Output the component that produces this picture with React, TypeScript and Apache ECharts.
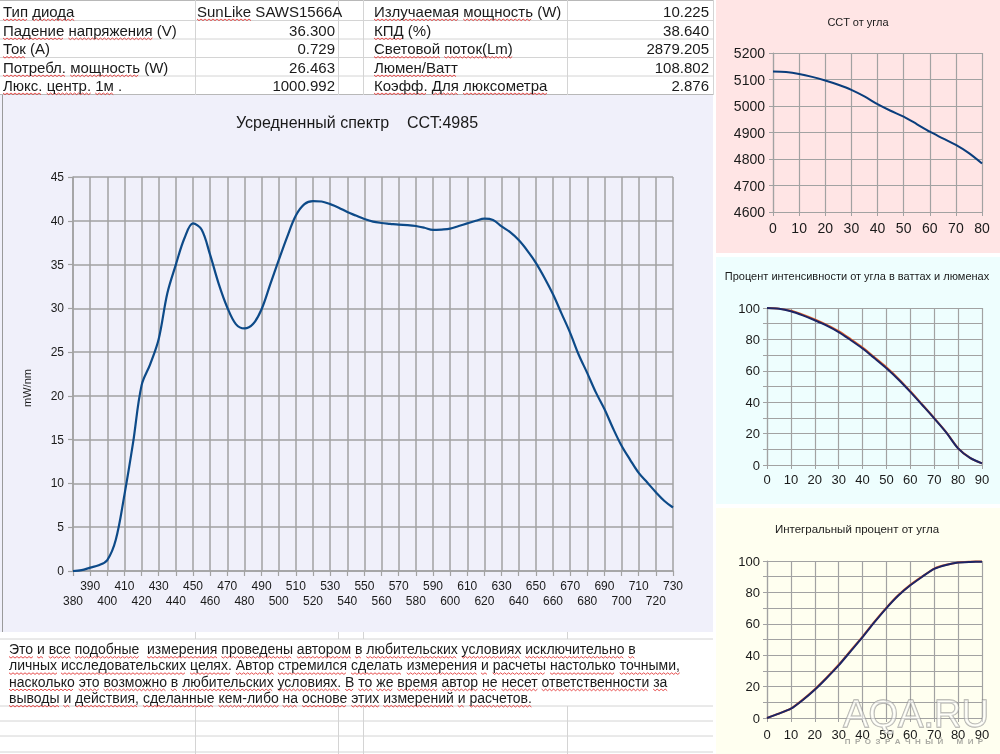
import React, { useEffect, useRef } from 'react';
import * as echarts from 'echarts';

const FONT = '"Liberation Sans", Arial, Helvetica, sans-serif';

// ---- Main spectrum ----
const wavelengths = [
  380, 385, 390, 395, 400, 405, 410, 415, 420, 425, 430, 435, 440, 445, 450, 455, 460, 465, 470, 475,
  480, 485, 490, 495, 500, 505, 510, 515, 520, 525, 530, 535, 540, 545, 550, 555, 560, 565, 570, 575,
  580, 585, 590, 595, 600, 605, 610, 615, 620, 625, 630, 635, 640, 645, 650, 655, 660, 665, 670, 675,
  680, 685, 690, 695, 700, 705, 710, 715, 720, 725, 730,
];
const spectrum = [
  0, 0.1, 0.38, 0.65, 1.25, 3.6, 8.7, 14.6, 21.2, 23.6, 26.5, 31.7, 35.0, 38.0, 39.7, 39.0, 36.1, 32.8, 30.1, 28.2,
  27.7, 28.2, 29.9, 32.7, 35.5, 38.2, 40.6, 41.9, 42.25, 42.2, 41.9, 41.5, 41.0, 40.6, 40.2, 39.9, 39.75, 39.65, 39.55, 39.5,
  39.4, 39.2, 38.95, 39.0, 39.1, 39.4, 39.7, 40.0, 40.25, 40.1, 39.35, 38.7, 37.8, 36.6, 35.2, 33.5, 31.6, 29.4, 27.2, 24.7,
  22.6, 20.4, 18.5, 16.3, 14.3, 12.7, 11.2, 10.1, 9.0, 8.0, 7.25,
];

// ---- CCT vs angle ----
const cctAngles = [0, 5, 10, 15, 20, 25, 30, 35, 40, 45, 50, 55, 60, 65, 70, 75, 80];
const cctValues = [5130, 5128, 5121, 5110, 5096, 5080, 5061, 5036, 5007, 4982, 4960, 4932, 4903, 4878, 4853, 4822, 4783];

// ---- Intensity % vs angle ----
const angles90 = [0, 5, 10, 15, 20, 25, 30, 35, 40, 45, 50, 55, 60, 65, 70, 75, 80, 85, 90];
const intensityWatts = [100, 99.5, 97.9, 95.3, 92.2, 88.8, 84.7, 79.6, 74.2, 68.0, 61.6, 54.5, 46.6, 38.2, 29.7, 20.8, 10.6, 4.5, 1.0];
const intensityLumens = [100, 99.6, 98.2, 95.7, 92.7, 89.3, 85.3, 80.2, 74.8, 68.6, 62.2, 55.0, 47.0, 38.5, 29.9, 21.0, 10.7, 4.5, 1.0];

// ---- Integral % vs angle ----
const integralWatts = [0, 2.8, 5.9, 11.5, 18.0, 25.5, 33.5, 42.5, 51.5, 61.0, 70.0, 78.0, 84.5, 90.0, 95.0, 97.5, 99.0, 99.4, 99.6];
const integralLumens = [0, 2.9, 6.0, 11.7, 18.3, 25.8, 33.9, 42.9, 51.9, 61.4, 70.3, 78.3, 84.8, 90.2, 95.2, 97.6, 99.1, 99.5, 99.7];

// ---- Table ----
const leftLabels = ['Тип диода', 'Падение напряжения (V)', 'Ток (A)', 'Потребл. мощность (W)', 'Люкс. центр. 1м .'];
const leftValues = ['SunLike SAWS1566A', '36.300', '0.729', '26.463', '1000.992'];
const rightLabels = ['Излучаемая мощность (W)', 'КПД (%)', 'Световой поток(Lm)', 'Люмен/Ватт', 'Коэфф. Для люксометра'];
const rightValues = ['10.225', '38.640', '2879.205', '108.802', '2.876'];

const noteLines = [
  'Это и все подобные  измерения проведены автором в любительских условиях исключительно в',
  'личных исследовательских целях. Автор стремился сделать измерения и расчеты настолько точными,',
  'насколько это возможно в любительских условиях. В то же время автор не несет ответственности за',
  'выводы и действия, сделанные кем-либо на основе этих измерений и расчетов.',
];

const mainTitle = 'Усредненный спектр    CCT:4985';
const cctTitle = 'CCT от угла';
const intensityTitle = 'Процент интенсивности от угла в ваттах и люменах';
const integralTitle = 'Интегральный процент от угла';
const watermark = 'AQA.RU';
const watermarkSub = 'П  Р  О  З  Р  А  Ч  Н  Ы  Й      М  И  Р';

const GRID = '#a2a2a2';
const TXT = '#1a1a1a';

let measureCtx: CanvasRenderingContext2D | null = null;
function textWidth(s: string, size: number) {
  if (!measureCtx) measureCtx = document.createElement('canvas').getContext('2d');
  measureCtx!.font = `${size}px "Liberation Sans", Arial, sans-serif`;
  return measureCtx!.measureText(s).width;
}

function wavyUnderlines(text: string, x: number, yLine: number, size: number, scaleX = 1) {
  const out: any[] = [];
  let pos = 0;
  const parts = text.split(' ');
  parts.forEach((w, i) => {
    const before = text.slice(0, pos);
    const start = x + textWidth(before, size) * scaleX;
    const width = textWidth(w, size) * scaleX;
    const underline = w.length > 0 && (/[А-Яа-яЁё]/.test(w) || w === 'SunLike');
    if (underline && width > 2) {
      const pts: number[][] = [];
      let k = 0;
      for (let px = start; px <= start + width; px += 2) {
        pts.push([px, yLine + (k % 2 === 0 ? 0 : 1.6)]);
        k++;
      }
      out.push({ type: 'polyline', z: 20, shape: { points: pts }, style: { stroke: '#e02020', lineWidth: 0.8, fill: null } });
    }
    pos += w.length + (i < parts.length - 1 ? 1 : 0);
  });
  return out;
}

function txt(text: string, x: number, y: number, size: number, align = 'left', extra: any = {}) {
  const { style, ...rest } = extra;
  return {
    type: 'text',
    x,
    y,
    z: 30,
    ...rest,
    style: {
      text,
      fill: TXT,
      fontSize: size,
      fontFamily: FONT,
      align,
      textAlign: align,
      verticalAlign: 'middle',
      textVerticalAlign: 'middle',
      ...(style || {}),
    },
  };
}

function rect(x: number, y: number, w: number, h: number, fill: string, z = -10) {
  return { type: 'rect', z, shape: { x, y, width: w, height: h }, style: { fill } };
}
function hline(x1: number, x2: number, y: number, color = '#d4d4d4', w = 1, z = -5) {
  return { type: 'line', z, shape: { x1, y1: y, x2, y2: y }, style: { stroke: color, lineWidth: w } };
}
function vline(x: number, y1: number, y2: number, color = '#d4d4d4', w = 1, z = -5) {
  return { type: 'line', z, shape: { x1: x, y1, x2: x, y2 }, style: { stroke: color, lineWidth: w } };
}

function panelX(gridIndex: number, max: number, fontSize: number, margin: number) {
  return {
    gridIndex,
    type: 'value',
    min: 0,
    max,
    interval: 10,
    axisLine: { show: true, lineStyle: { color: GRID, width: 1.2 } },
    axisTick: { show: true, length: 4, lineStyle: { color: GRID } },
    axisLabel: { fontSize, color: TXT, margin, fontFamily: FONT, showMinLabel: true, showMaxLabel: true },
    splitLine: { show: true, lineStyle: { color: GRID, width: 1.2 } },
  };
}
function panelY(gridIndex: number, min: number, max: number, interval: number, fontSize: number, margin: number, every: number) {
  return {
    gridIndex,
    type: 'value',
    min,
    max,
    interval,
    axisLine: { show: true, lineStyle: { color: GRID, width: 1.2 } },
    axisTick: { show: true, length: 4, lineStyle: { color: GRID } },
    axisLabel: {
      fontSize,
      color: TXT,
      margin,
      fontFamily: FONT,
      showMinLabel: true,
      showMaxLabel: true,
      formatter: (v: number) => ((v - min) % every === 0 ? String(v) : ''),
    },
    splitLine: { show: true, lineStyle: { color: GRID, width: 1.2 } },
  };
}

function buildOption() {
  const g: any[] = [];
  // backgrounds
  g.push(rect(0, 0, 1000, 754, '#ffffff', -20));
  g.push(rect(0, 95, 713, 537, '#f0f0fa'));
  g.push(rect(716, 0, 284, 253, '#ffe5e5'));
  g.push(rect(716, 257, 284, 247, '#eefefe'));
  g.push(rect(716, 508, 284, 246, '#fffff0'));
  g.push(vline(2.5, 95, 632, '#9a9a9a', 1));

  // top table grid
  g.push(hline(0, 713, 0.5, '#b8b8b8'));
  [20.5, 39, 57.5, 76].forEach((y) => g.push(hline(0, 713, y)));
  g.push(hline(0, 713, 94.5, '#b8b8b8'));
  [195, 338, 363, 567, 713].forEach((x) => g.push(vline(x + 0.5, 0, 95)));
  const rowY = [11, 30, 48.5, 67, 85];
  const TS = 15;
  rowY.forEach((y, i) => {
    g.push(txt(leftLabels[i], 3, y, TS, 'left'));
    g.push(...wavyUnderlines(leftLabels[i], 3, y + 8, TS));
    if (i === 0) {
      g.push(txt(leftValues[i], 197, y, TS, 'left'));
      g.push(...wavyUnderlines(leftValues[i], 197, y + 8, TS));
    } else {
      g.push(txt(leftValues[i], 335, y, TS, 'right'));
    }
    g.push(txt(rightLabels[i], 374, y, TS, 'left'));
    g.push(...wavyUnderlines(rightLabels[i], 374, y + 8, TS));
    g.push(txt(rightValues[i], 709, y, TS, 'right'));
  });

  // main chart titles
  g.push(txt(mainTitle, 357, 122, 16, 'center'));
  g.push(txt('mW/nm', 27, 388, 11, 'center', { rotation: Math.PI / 2 }));

  // panel titles
  g.push(txt(cctTitle, 858, 22, 11, 'center'));
  g.push(txt(intensityTitle, 857, 276, 11, 'center'));
  g.push(txt(integralTitle, 857, 529, 11.5, 'center'));

  // bottom spreadsheet area
  [639, 706, 721, 736, 752].forEach((y) => g.push(hline(0, 713, y)));
  [195, 338, 363, 567].forEach((x) => {
    g.push(vline(x + 0.5, 632, 639));
    g.push(vline(x + 0.5, 706, 754));
  });
  const NS = 14;
  noteLines.forEach((line, i) => {
    const y = 649 + i * 16.3;
    g.push(txt(line, 9, y, NS, 'left'));
    g.push(...wavyUnderlines(line, 9, y + 7.5, NS));
  });

  // watermark
  g.push({
    type: 'text',
    x: 916,
    y: 714,
    z: 40,
    style: {
      text: watermark,
      fill: 'rgba(255,255,255,0.5)',
      stroke: 'rgba(130,130,130,0.65)',
      lineWidth: 1.3,
      fontSize: 38,
      fontFamily: FONT,
      align: 'center',
      textAlign: 'center',
      verticalAlign: 'middle',
      textVerticalAlign: 'middle',
    },
  });
  g.push({
    type: 'text',
    x: 914,
    y: 741,
    z: 40,
    style: {
      text: watermarkSub,
      fill: 'rgba(100,100,100,0.55)',
      fontSize: 8,
      fontWeight: 'bold',
      fontFamily: FONT,
      align: 'center',
      textAlign: 'center',
      verticalAlign: 'middle',
      textVerticalAlign: 'middle',
    },
  });

  const mainXBase = {
    gridIndex: 0,
    type: 'value',
    min: 380,
    max: 730,
    interval: 10,
  };

  return {
    animation: false,
    backgroundColor: 'transparent',
    textStyle: { fontFamily: FONT },
    grid: [
      { left: 73, top: 177, width: 600, height: 394 },
      { left: 773, top: 53, width: 209, height: 159 },
      { left: 767, top: 308, width: 215, height: 157 },
      { left: 767, top: 561, width: 215, height: 157 },
    ],
    xAxis: [
      {
        ...mainXBase,
        axisLine: { show: true, lineStyle: { color: GRID, width: 1.5 } },
        axisTick: { show: true, length: 5, lineStyle: { color: GRID, width: 1.2 } },
        axisLabel: {
          fontSize: 12,
          color: TXT,
          margin: 9,
          fontFamily: FONT,
          showMinLabel: true,
          showMaxLabel: true,
          formatter: (v: number) => (((v - 380) / 10) % 2 === 1 ? String(v) : ''),
        },
        splitLine: { show: true, lineStyle: { color: GRID, width: 1.5 } },
      },
      panelX(1, 80, 14, 9),
      panelX(2, 90, 13, 8),
      panelX(3, 90, 13, 10),
      {
        ...mainXBase,
        position: 'bottom',
        offset: 0,
        axisLine: { show: false },
        axisTick: { show: false },
        splitLine: { show: false },
        axisLabel: {
          fontSize: 12,
          color: TXT,
          margin: 24,
          fontFamily: FONT,
          showMinLabel: true,
          showMaxLabel: true,
          formatter: (v: number) => (((v - 380) / 10) % 2 === 0 ? String(v) : ''),
        },
      },
    ],
    yAxis: [
      {
        gridIndex: 0,
        type: 'value',
        min: 0,
        max: 45,
        interval: 5,
        axisLine: { show: true, lineStyle: { color: GRID, width: 1.5 } },
        axisTick: { show: true, length: 5, lineStyle: { color: GRID, width: 1.2 } },
        axisLabel: { fontSize: 12, color: TXT, margin: 9, fontFamily: FONT, showMinLabel: true, showMaxLabel: true },
        splitLine: { show: true, lineStyle: { color: GRID, width: 1.5 } },
      },
      panelY(1, 4600, 5200, 100, 14, 8, 100),
      panelY(2, 0, 100, 10, 13, 7, 20),
      panelY(3, 0, 100, 10, 13, 7, 20),
    ],
    series: [
      {
        type: 'line',
        xAxisIndex: 0,
        yAxisIndex: 0,
        data: wavelengths.map((w, i) => [w, spectrum[i]]),
        smooth: 0.35,
        showSymbol: false,
        lineStyle: { color: '#0d4a88', width: 2.2 },
        z: 5,
      },
      {
        type: 'line',
        xAxisIndex: 1,
        yAxisIndex: 1,
        data: cctAngles.map((a, i) => [a, cctValues[i]]),
        smooth: 0.3,
        showSymbol: false,
        lineStyle: { color: '#0a3d7c', width: 2 },
        z: 5,
      },
      {
        type: 'line',
        xAxisIndex: 2,
        yAxisIndex: 2,
        data: angles90.map((a, i) => [a, intensityLumens[i]]),
        smooth: 0.3,
        showSymbol: false,
        lineStyle: { color: '#e2622a', width: 2 },
        z: 5,
      },
      {
        type: 'line',
        xAxisIndex: 2,
        yAxisIndex: 2,
        data: angles90.map((a, i) => [a, intensityWatts[i]]),
        smooth: 0.3,
        showSymbol: false,
        lineStyle: { color: '#1c2566', width: 2 },
        z: 6,
      },
      {
        type: 'line',
        xAxisIndex: 3,
        yAxisIndex: 3,
        data: angles90.map((a, i) => [a, integralLumens[i]]),
        smooth: 0.2,
        showSymbol: false,
        lineStyle: { color: '#e2622a', width: 2 },
        z: 5,
      },
      {
        type: 'line',
        xAxisIndex: 3,
        yAxisIndex: 3,
        data: angles90.map((a, i) => [a, integralWatts[i]]),
        smooth: 0.2,
        showSymbol: false,
        lineStyle: { color: '#1c2566', width: 2 },
        z: 6,
      },
    ],
    graphic: { elements: g },
  };
}

export default function App() {
  const ref = useRef<HTMLDivElement>(null);
  useEffect(() => {
    if (!ref.current) return;
    const chart = echarts.init(ref.current, null, { renderer: 'svg' });
    chart.setOption(buildOption() as any);
    return () => chart.dispose();
  }, []);
  return <div ref={ref} style={{ position: 'fixed', left: 0, top: 0, width: 1000, height: 754 }} />;
}
